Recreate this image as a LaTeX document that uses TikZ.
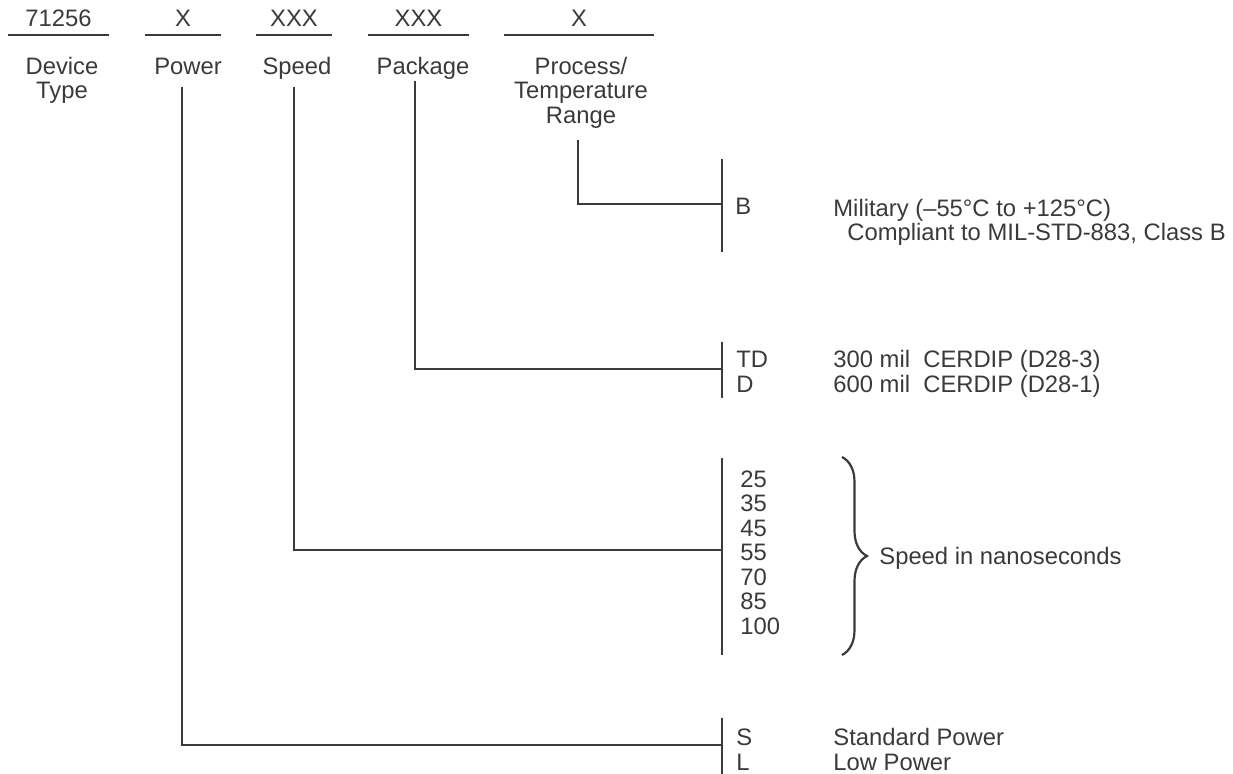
\documentclass[tikz,border=0pt]{standalone}
\usepackage{fontspec}
\setmainfont{Liberation Sans}
\usetikzlibrary{decorations.pathreplacing}
\definecolor{ink}{HTML}{3A3A38}
\tikzset{
  txt/.style={inner sep=0pt,text=ink,font=\fontsize{11.9}{12.25}\selectfont},
  field/.style={txt,anchor=south,inner ysep=4pt},
  head/.style={txt,anchor=base,align=center},
  opt/.style={txt,anchor=base west,align=left},
  wire/.style={draw=ink,line width=1.3pt},
}

\begin{document}
\begin{tikzpicture}[x=0.5pt,y=-0.5pt]
  \useasboundingbox (0,0) rectangle (1233,773);
  \node[field,minimum width=50.5pt] (c1) at (58.5,35) {71256};
  \node[field,minimum width=38pt] (c2) at (183,35) {X};
  \node[field,minimum width=38pt] (c3) at (294,35) {XXX};
  \node[field,minimum width=50.5pt] (c4) at (418.5,35) {XXX};
  \node[field,minimum width=75pt] (c5) at (579,35) {X};
  \foreach \c in {c1,c2,c3,c4,c5} \draw[wire] (\c.south west) -- (\c.south east);
  \node[head] (h1) at (62,98.5) {Device\\Type};
  \node[head] (h2) at (188,74) {Power};
  \node[head] (h3) at (297,74) {Speed};
  \node[head] (h4) at (423,74) {Package};
  \node[head] (h5) at (581,123) {Process/\\Temperature\\Range};
  \coordinate (t2) at (182,87);
  \coordinate (t3) at (294,87);
  \coordinate (t4) at (415,81);
  \coordinate (t5) at (578,140);
  \coordinate (j2) at (722,745);
  \coordinate (j3) at (722,550);
  \coordinate (j4) at (722,369);
  \coordinate (j5) at (722,204);
  \coordinate (top2) at (722,718);
  \coordinate (bot2) at (722,775);
  \coordinate (top3) at (722,458);
  \coordinate (bot3) at (722,655);
  \coordinate (top4) at (722,342);
  \coordinate (bot4) at (722,398);
  \coordinate (top5) at (722,159);
  \coordinate (bot5) at (722,252);
  \foreach \n in {2,...,5} {
    \draw[wire] (top\n) -- (bot\n);
    \draw[wire] (t\n) |- (j\n);
  }
  \node[opt] (o5) at (735,214) {B};
  \node[opt] (d5) at (833,216) {Military (–55°C to +125°C)};
  \node[opt] (d5b) at (847,240) {Compliant to MIL-STD-883, Class B};
  \node[opt] (o4) at (736,392) {TD\\D};
  \node[opt] (d4) at (833,392) {300 mil~~CERDIP (D28-3)\\600 mil~~CERDIP (D28-1)};
  \node[opt] (o3) at (740,634) {25\\35\\45\\55\\70\\85\\100};
  \coordinate (br1) at (842,457);
  \coordinate (br2) at (842,655);
  \draw[wire,line width=1.1pt,decorate,decoration={brace,amplitude=12.5pt}] (br1) -- (br2);
  \node[txt,anchor=base west] (sp) at (879,564) {Speed in nanoseconds};
  \node[opt] (o2) at (736,770) {S\\L};
  \node[opt] (d2) at (833,770) {Standard Power\\Low Power};
\end{tikzpicture}
\end{document}
